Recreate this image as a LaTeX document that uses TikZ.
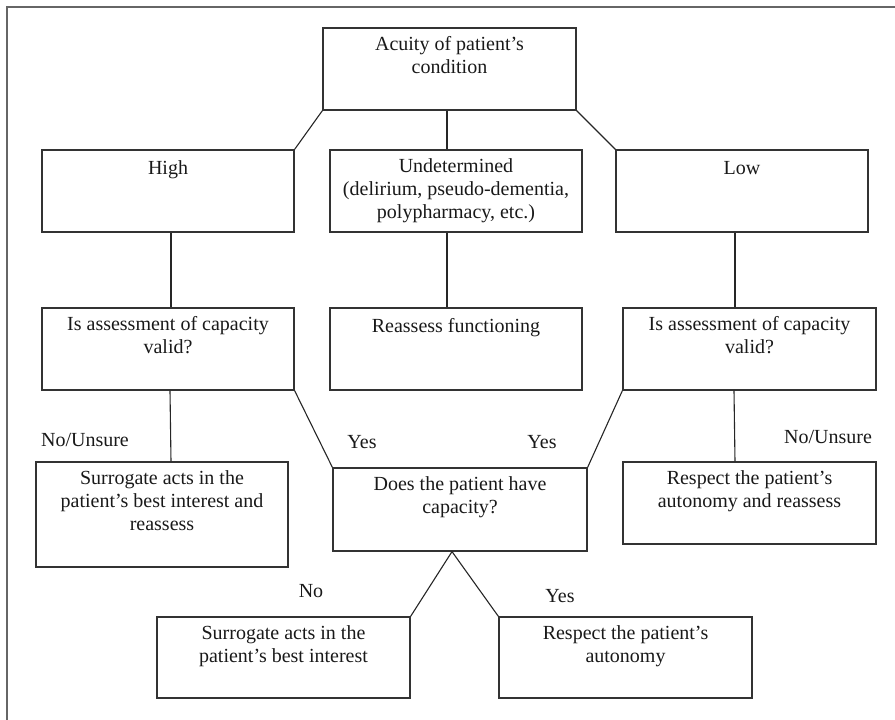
\documentclass[tikz,border=0pt]{standalone}
\usepackage{fontspec}
\setmainfont{Liberation Serif}
\newcommand\flowbox[6]{%
  \node[box, minimum width=#4pt, minimum height=#5pt] (#1) at (#2,#3) {};
  \node[btxt] (#1-t) at ([yshift=-9pt]#1.north) {#6};}
\begin{document}
\begin{tikzpicture}[x=1pt,y=-1pt,
  box/.style={draw=black!80, line width=1.2pt, rectangle, inner sep=0pt},
  btxt/.style={anchor=north, align=center, inner sep=0pt, text=black!90,
    font=\fontsize{20}{23}\selectfont, execute at begin node=\strut},
  lbl/.style={anchor=base, inner sep=0pt, text=black!90, font=\fontsize{20}{23}\selectfont},
  conn/.style={draw=black!85, line width=1.1pt},
  frame/.style={draw=black!60, line width=2pt}]
\useasboundingbox (0,0) rectangle (895,720);
\coordinate (fbl) at (6.5,721);
\coordinate (ftl) at (6.5,7);
\coordinate (ftr) at (896,7);
\draw[frame] (fbl) -- (ftl) -- (ftr);

\flowbox{acu}{449.5}{69}{253}{82}{Acuity of patient’s\\condition}
\flowbox{high}{168}{191}{252}{82}{High}
\flowbox{und}{456}{191}{252}{82}{Undetermined\\(delirium, pseudo-dementia,\\polypharmacy, etc.)}
\flowbox{low}{742}{191}{252}{82}{Low}
\flowbox{assL}{168}{349}{252}{82}{Is assessment of capacity\\valid?}
\flowbox{reas}{456}{349}{252}{82}{Reassess functioning}
\flowbox{assR}{749.5}{349}{253}{82}{Is assessment of capacity\\valid?}
\flowbox{surL}{162}{514.5}{252}{105}{Surrogate acts in the\\patient’s best interest and\\reassess}
\flowbox{does}{460}{509.5}{254}{83}{Does the patient have\\capacity?}
\flowbox{resR}{749.5}{503}{253}{82}{Respect the patient’s\\autonomy and reassess}
\flowbox{sur2}{283.5}{657.5}{253}{81}{Surrogate acts in the\\patient’s best interest}
\flowbox{res2}{625.5}{657.5}{253}{81}{Respect the patient’s\\autonomy}

\draw[conn] (acu.south west) -- (high.north east);
\draw[conn] ([xshift=-2.5pt]acu.south) -- ([xshift=-9pt]und.north);
\draw[conn] (acu.south east) -- (low.north west);
\draw[conn] ([xshift=3pt]high.south) -- ([xshift=3pt]assL.north);
\draw[conn] ([xshift=-9pt]und.south) -- ([xshift=-9pt]reas.north);
\draw[conn] ([xshift=-7pt]low.south) -- ([xshift=-14.5pt]assR.north);
\draw[conn] ([xshift=2pt]assL.south) -- ([xshift=9pt]surL.north);
\draw[conn] (assL.south east) -- (does.north west);
\draw[conn] (assR.south west) -- (does.north east);
\draw[conn] ([xshift=-15.5pt]assR.south) -- ([xshift=-14.5pt]resR.north);
\draw[conn] ([xshift=-8pt]does.south) -- (sur2.north east);
\draw[conn] ([xshift=-8pt]does.south) -- (res2.north west);

\node[lbl] (l1) at (85,446) {No/Unsure};
\node[lbl] (l2) at (362,448) {Yes};
\node[lbl] (l3) at (542,448) {Yes};
\node[lbl] (l4) at (828,443) {No/Unsure};
\node[lbl] (l5) at (311,597) {No};
\node[lbl] (l6) at (560,602) {Yes};
\end{tikzpicture}
\end{document}
